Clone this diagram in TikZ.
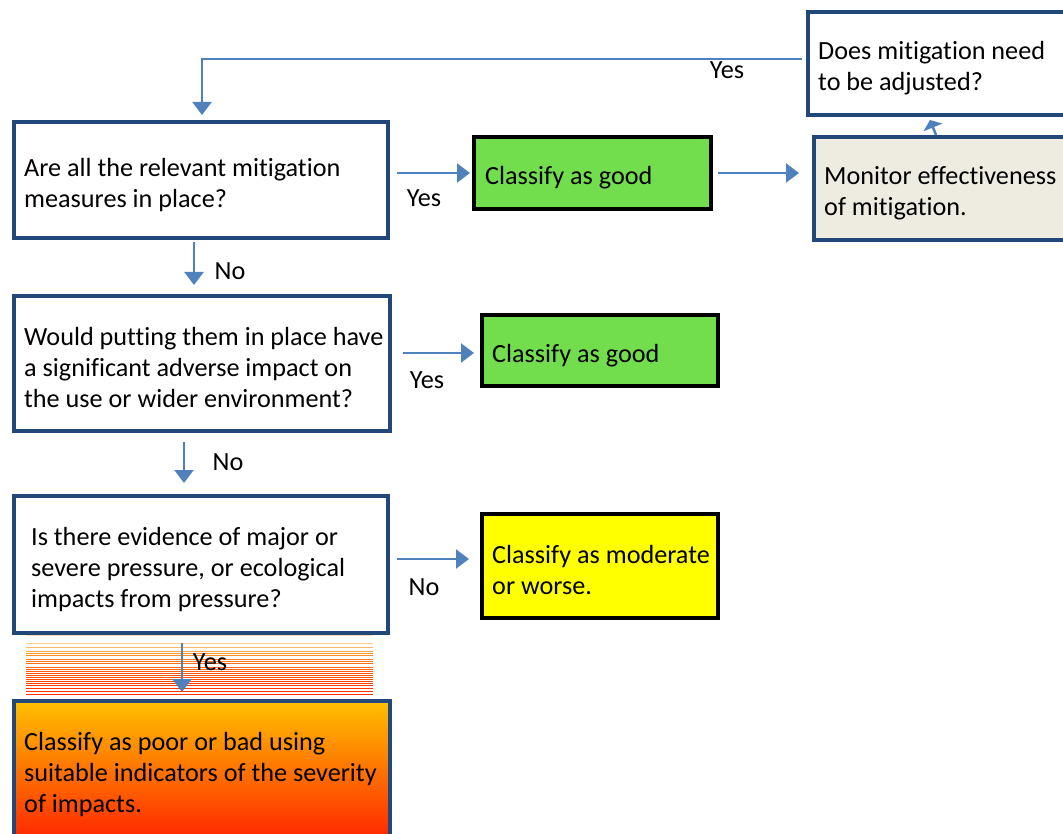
\documentclass[tikz,border=0pt]{standalone}
\usepackage{fontspec}
\setmainfont[Ligatures={NoCommon}]{Carlito}
\usetikzlibrary{arrows.meta,calc}
\definecolor{bordblue}{RGB}{34,72,122}
\definecolor{arrblue}{RGB}{79,129,189}
\definecolor{goodgreen}{RGB}{114,222,78}
\definecolor{monfill}{RGB}{238,236,225}
\definecolor{yelfill}{RGB}{255,255,0}
\definecolor{orangetop}{RGB}{255,192,0}
\definecolor{orangebot}{RGB}{255,28,0}
\definecolor{stripetop}{RGB}{252,232,195}
\definecolor{stripemid}{RGB}{247,150,40}
\definecolor{stripebot}{RGB}{255,50,0}
\tikzset{
  tx/.style={font=\fontsize{26.2}{31}\selectfont, align=left, anchor=west, inner sep=0pt},
  qbox/.style={draw=bordblue, line width=4pt, fill=white, rectangle, anchor=north west, inner sep=0pt},
  gbox/.style={draw=black, line width=4pt, fill=goodgreen, rectangle, anchor=north west, inner sep=0pt},
  ybox/.style={gbox, fill=yelfill},
  mbox/.style={qbox, fill=monfill},
  arr/.style={draw=arrblue, line width=2.5pt, -{Triangle[width=19pt,length=13pt]}},
  lbl/.style={font=\fontsize{26.2}{31}\selectfont, inner sep=0pt}
}
\begin{document}
\begin{tikzpicture}[x=1pt,y=-1pt]
\useasboundingbox (0,0) rectangle (1063,834);
% question boxes
\node[qbox, minimum width=374pt, minimum height=116pt] (q1) at (12,120) {};
\node[tx] (q1t) at ([xshift=12pt,yshift=-5pt]q1.west)
  {Are all the relevant mitigation\\measures in place?};
\node[qbox, minimum width=376pt, minimum height=135pt] (q2) at (12,294) {};
\node[tx] (q2t) at ([xshift=12pt,yshift=-3.5pt]q2.west)
  {Would putting them in place have\\a significant adverse impact on\\the use or wider environment?};
\node[qbox, minimum width=374pt, minimum height=137pt] (q3) at (12,494) {};
\node[tx] (q3t) at ([xshift=19pt,yshift=-5pt]q3.west)
  {Is there evidence of major or\\severe pressure, or ecological\\impacts from pressure?};
% stripes
\foreach \yy/\pc in {635/10,643/20,647/35,651/50,653/60,655/65,659/70,661/72,663/75,667/78,669/80,671/82,673/84,675/86,677/88,679/90,681/92,683/94,685/96,688/98,691/100,694/100}{
  \ifnum\pc<60
    \pgfmathsetmacro{\mix}{\pc/60*100}
    \draw[line width=0.8pt, stripemid!\mix!stripetop] (26,\yy) -- (373,\yy);
  \else
    \pgfmathsetmacro{\mix}{(\pc-60)/40*100}
    \draw[line width=0.8pt, stripebot!\mix!stripemid] (26,\yy) -- (373,\yy);
  \fi
}
% bottom box with gradient
\node[qbox, minimum width=376pt, minimum height=148pt, top color=orangetop, bottom color=orangebot] (q4) at (12,699) {};
\node[tx] (q4t) at ([xshift=12pt]q4.west)
  {Classify as poor or bad using\\suitable indicators of the severity\\of impacts.};
% outcome boxes
\node[gbox, minimum width=237pt, minimum height=72pt] (g1) at (472,135) {};
\node[tx] (g1t) at ([xshift=13pt,yshift=-5pt]g1.west) {Classify as good};
\node[gbox, minimum width=236pt, minimum height=71pt] (g2) at (480,313) {};
\node[tx] (g2t) at ([xshift=12pt,yshift=-5.5pt]g2.west) {Classify as good};
\node[ybox, minimum width=236pt, minimum height=104pt] (y1) at (480,512) {};
\node[tx] (y1t) at ([xshift=12pt,yshift=-4.5pt]y1.west) {Classify as moderate\\or worse.};
\node[mbox, minimum width=263pt, minimum height=103pt] (mon) at (812,135) {};
\node[tx] (mont) at ([xshift=12pt,yshift=-5pt]mon.west) {Monitor effectiveness\\of mitigation.};
\node[qbox, minimum width=263pt, minimum height=103pt] (does) at (806,10) {};
\node[tx] (doest) at ([xshift=12pt,yshift=-5pt]does.west) {Does mitigation need\\to be adjusted?};
% connectors
\draw[arr] ([xshift=7pt]q1.east |- g1.west) -- ([xshift=-2pt]g1.west);
\draw[arr] ([xshift=5pt]g1.east) -- ([xshift=-13pt]g1.east -| mon.west);
\draw[draw=arrblue, line width=2.5pt, -{Triangle[width=20pt,length=8pt]}] ([xshift=-9.5pt]mon.north) -- ([xshift=-9.5pt,yshift=-3pt]does.south);
\draw[arr] ([xshift=-4pt,yshift=4.5pt]does.west) -| ([xshift=1pt,yshift=5pt]q1.north);
\draw[arr] ([xshift=-7pt,yshift=-2pt]q1.south) -- ([xshift=-7pt,yshift=9pt]q1.south |- q2.north);
\draw[arr] ([xshift=11pt,yshift=-2.5pt]q2.east |- g2.west) -- ([xshift=-6pt,yshift=-2.5pt]g2.west);
\draw[arr] ([xshift=-18pt,yshift=-9pt]q2.south) -- ([xshift=-18pt,yshift=11pt]q2.south |- q3.north);
\draw[arr] ([xshift=7pt,yshift=7pt]q3.east |- y1.west) -- ([xshift=-11pt,yshift=7pt]y1.west);
\draw[arr] ([xshift=-19pt,yshift=-8pt]q3.south) -- ([xshift=-19pt,yshift=7pt]q3.south |- q4.north);
% labels
\node[lbl] (lyes1) at (727,70) {Yes};
\node[lbl] (lyes2) at (424,198) {Yes};
\node[lbl] (lno1) at (230,271) {No};
\node[lbl] (lyes3) at (427,380) {Yes};
\node[lbl] (lno2) at (228,462) {No};
\node[lbl] (lno3) at (424,587) {No};
\node[lbl] (lyes4) at (210,662) {Yes};
\end{tikzpicture}
\end{document}
